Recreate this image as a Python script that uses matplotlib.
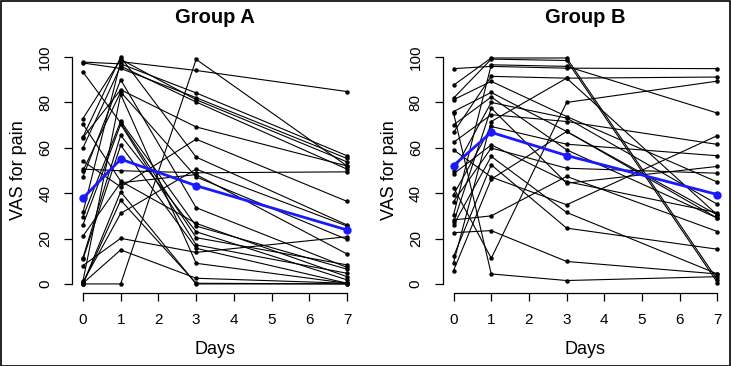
import matplotlib
matplotlib.use("Agg")
import matplotlib.pyplot as plt
from matplotlib.patches import Rectangle

plt.rcParams['font.family'] = ['Liberation Sans', 'DejaVu Sans']

days = [0, 1, 3, 7]
titles = ["Group A", "Group B"]
x_ticks = [0, 1, 2, 3, 4, 5, 6, 7]
y_ticks = [0, 20, 40, 60, 80, 100]

# Individual VAS trajectories (day 0, 1, 3, 7)
group_a = [
    [97.8, 97.0, 84.2, 56.5],
    [97.4, 95.0, 82.1, 55.3],
    [93.4, 71.0, 20.4, 8.4],
    [72.9, 99.0, 81.2, 53.8],
    [70.4, 45.3, 26.7, 3.2],
    [64.8, 100.0, 55.9, 26.0],
    [64.5, 85.6, 69.2, 52.0],
    [60.0, 96.0, 80.2, 50.6],
    [54.1, 42.8, 63.8, 36.4],
    [50.6, 49.9, 49.0, 49.4],
    [49.9, 84.6, 47.2, 19.6],
    [47.2, 90.0, 33.6, 7.3],
    [31.5, 98.0, 94.1, 84.8],
    [29.6, 71.7, 25.5, 6.5],
    [26.0, 70.4, 17.2, 4.7],
    [21.1, 44.6, 48.2, 13.2],
    [11.6, 65.5, 23.0, 1.8],
    [10.9, 61.1, 15.7, 0.3],
    [8.1, 20.1, 13.9, 20.8],
    [1.3, 83.6, 9.1, 0.3],
    [0.3, 15.0, 2.5, 0.3],
    [0.0, 0.0, 99.0, 52.0],
    [0.0, 36.9, 0.3, 0.0],
    [0.8, 31.1, 50.6, 25.5],
    [0.0, 40.6, 0.0, 0.0],
]
group_b = [
    [94.9, 95.9, 95.1, 94.9],
    [87.6, 99.6, 99.6, 1.8],
    [81.9, 99.1, 98.5, 0.6],
    [81.2, 89.3, 73.8, 44.9],
    [76.0, 84.4, 67.2, 30.4],
    [75.3, 4.4, 1.5, 3.2],
    [70.1, 82.4, 59.1, 29.0],
    [66.8, 91.5, 90.7, 91.2],
    [62.4, 74.6, 71.6, 61.5],
    [59.1, 47.1, 34.9, 65.4],
    [49.6, 80.0, 73.1, 35.1],
    [48.5, 61.3, 45.1, 31.4],
    [42.5, 11.3, 80.0, 89.4],
    [39.3, 69.4, 61.6, 56.5],
    [36.3, 59.9, 51.0, 48.8],
    [30.4, 96.6, 95.9, 75.3],
    [28.2, 30.0, 47.4, 23.1],
    [27.1, 77.5, 44.4, 51.8],
    [26.0, 56.2, 31.5, 4.4],
    [22.6, 23.5, 9.9, 4.4],
    [12.1, 52.5, 24.6, 15.3],
    [9.4, 71.6, 90.7, 30.4],
    [5.9, 46.2, 67.2, 29.0],
]
mean_a = [37.8, 55.0, 43.3, 23.8]
mean_b = [52.2, 66.8, 56.6, 39.4]

W, H = 731, 366
fig = plt.figure(figsize=(W / 100, H / 100), dpi=100)

axes_px = [(72.4, 357.6), (443.0, 728.0)]
top_px, bot_px = 48.0, 293.0

for (l, r), title, data, mean in zip(axes_px, titles, [group_a, group_b], [mean_a, mean_b]):
    ax = fig.add_axes([l / W, (H - bot_px) / H, (r - l) / W, (bot_px - top_px) / H])
    for subj in data:
        ax.plot(days, subj, color='black', lw=0.8, marker='o', ms=3.2,
                markeredgewidth=0, zorder=2)
    ax.plot(days, mean, color='#1a1aff', lw=2.0, marker='o', ms=6,
            markeredgewidth=0, zorder=3)
    ax.set_xlim(-0.28, 7.28)
    ax.set_ylim(-4, 104)
    for s in ['top', 'right']:
        ax.spines[s].set_visible(False)
    ax.spines['left'].set_bounds(0, 100)
    ax.spines['bottom'].set_bounds(0, 7)
    ax.spines['left'].set_linewidth(0.9)
    ax.spines['bottom'].set_linewidth(0.9)
    ax.set_xticks(x_ticks)
    ax.set_yticks(y_ticks)
    ax.tick_params(axis='both', length=5.5, width=0.9, labelsize=11, pad=9)
    for t in ax.get_yticklabels():
        t.set_rotation(90)
        t.set_va('center')
    ax.set_xlabel("Days", fontsize=13, labelpad=10)
    ax.set_ylabel("VAS for pain", fontsize=13, labelpad=8)
    ax.set_title(title, fontsize=14.5, fontweight='bold', pad=18)
    ax.patch.set_alpha(0)

fig.patches.append(Rectangle((0.5 / W, 0.5 / H), 1 - 1.5 / W, 1 - 1.5 / H,
                             transform=fig.transFigure, fill=False,
                             edgecolor='black', lw=1.2))
fig.savefig("out.png", dpi=100)
